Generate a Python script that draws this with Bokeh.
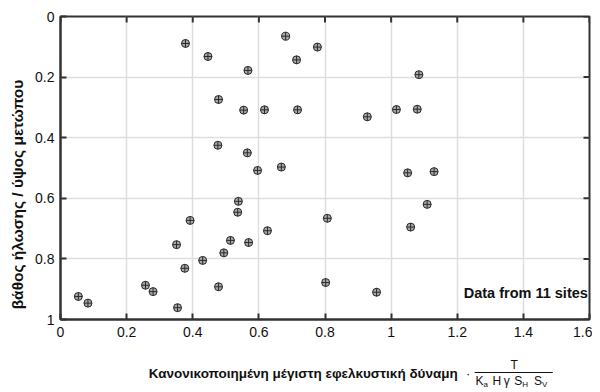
import math
from bokeh.plotting import figure
from bokeh.layouts import row, column
from bokeh.models import Range1d, FixedTicker, Label, ColumnDataSource
from bokeh.core.properties import value
from bokeh.embed import file_html
from bokeh.resources import INLINE

# ---- data (normalised max tensile force vs. normalised nail depth) ----
tension = [0.378, 0.446, 0.567, 0.478, 0.554, 0.617, 0.476, 0.565, 0.596, 0.668,
           0.681, 0.714, 0.717, 0.777, 1.084, 0.928, 1.016, 1.079, 1.050, 1.130,
           0.538, 0.536, 0.392, 0.626, 0.351, 0.514, 0.569, 0.494, 0.430, 0.376,
           0.257, 0.280, 0.478, 0.054, 0.083, 0.354, 0.807, 1.109, 1.059, 0.802,
           0.956]
depth = [0.089, 0.132, 0.178, 0.274, 0.309, 0.308, 0.425, 0.450, 0.508, 0.497,
         0.065, 0.143, 0.308, 0.101, 0.192, 0.331, 0.307, 0.306, 0.516, 0.512,
         0.610, 0.646, 0.673, 0.707, 0.753, 0.739, 0.746, 0.780, 0.805, 0.831,
         0.887, 0.908, 0.892, 0.924, 0.946, 0.961, 0.666, 0.620, 0.695, 0.878,
         0.910]

x_ticks = [0, 0.2, 0.4, 0.6, 0.8, 1.0, 1.2, 1.4, 1.6]
x_tick_labels = ["0", "0.2", "0.4", "0.6", "0.8", "1", "1.2", "1.4", "1.6"]
y_ticks = [0, 0.2, 0.4, 0.6, 0.8, 1.0]
y_tick_labels = ["0", "0.2", "0.4", "0.6", "0.8", "1"]

y_title = "βάθος ήλωσης / ύψος μετώπου"
x_title = "Κανονικοποιημένη  μέγιστη εφελκυστική δύναμη"
note = "Data from 11 sites"

FONT = "Liberation Sans"
AX = "#333333"
TXT = "#111111"
LEFT_W = 30          # width of the strip holding the y title
TOP_H = 342          # height of the main plot (frame 16..319 + tick labels)
W, H = 592, 392

# ---------------- main plot ----------------
p = figure(width=W - LEFT_W, height=TOP_H, x_range=Range1d(0, 1.6), y_range=Range1d(1, 0),
           output_backend="svg", toolbar_location=None,
           min_border_left=60 - LEFT_W, min_border_right=3, min_border_top=16,
           min_border_bottom=TOP_H - 319)
p.background_fill_color = "white"
p.border_fill_color = "white"
p.outline_line_color = AX
p.outline_line_width = 2

src = ColumnDataSource(dict(x=tension, y=depth))
p.scatter("x", "y", source=src, marker="circle_cross", size=8,
          fill_color="#a8a8a8", line_color="#2a2a2a", line_width=1)

# inward tick marks on the top and right edges (half of each dash is clipped by the frame)
p.scatter(x=x_ticks, y=[0.0] * len(x_ticks), marker="dash", size=12, angle=math.pi / 2,
          line_color=AX, line_width=2)
p.scatter(x=[1.6] * len(y_ticks), y=y_ticks, marker="dash", size=12,
          line_color=AX, line_width=2)

xover = {float(t): s for t, s in zip(x_ticks, x_tick_labels)}
yover = {float(t): s for t, s in zip(y_ticks, y_tick_labels)}

def style_axis(ax, ticks, over, standoff):
    ax.ticker = FixedTicker(ticks=ticks)
    ax.major_label_overrides = over
    ax.axis_line_color = AX
    ax.axis_line_width = 2
    ax.major_tick_line_color = AX
    ax.major_tick_line_width = 2
    ax.major_tick_in = 6
    ax.major_tick_out = 0
    ax.minor_tick_line_color = None
    ax.major_label_standoff = standoff
    ax.major_label_text_font = FONT
    ax.major_label_text_color = TXT
    ax.major_label_text_font_size = "14px"

style_axis(p.xaxis[0], x_ticks, xover, 7)
style_axis(p.yaxis[0], y_ticks, yover, 6)

p.xgrid.ticker = FixedTicker(ticks=x_ticks)
p.ygrid.ticker = FixedTicker(ticks=y_ticks)
p.grid.grid_line_color = "#dedede"
p.grid.grid_line_width = 1.5

p.add_layout(Label(x=1.595, y=(292.5 - 16) / 303.0, text=note, text_align="right",
                   text_baseline="middle", text_font=FONT,
                   text_font_size="14.5px", text_font_style="bold", text_color=TXT))

# ---------------- helper strips (page-pixel coordinates) ----------------
def strip(w, h, x0, y0):
    f = figure(width=w, height=h, x_range=Range1d(x0, x0 + w), y_range=Range1d(y0 + h, y0),
               output_backend="svg", toolbar_location=None,
               min_border=0, min_border_left=0, min_border_right=0,
               min_border_top=0, min_border_bottom=0)
    f.axis.visible = False
    f.grid.visible = False
    f.outline_line_color = None
    f.background_fill_color = "white"
    f.border_fill_color = "white"
    return f

# left strip: y title
pl = strip(LEFT_W, H, 0, 0)
pl.text(x=[17], y=[194], text=[y_title], angle=math.pi / 2, text_align="center",
        text_baseline="middle", text_font=value(FONT), text_font_size="15.5px",
        text_font_style="bold", text_color=TXT)

# bottom strip: x title with the normalising fraction
pb = strip(W - LEFT_W, H - TOP_H, LEFT_W, TOP_H)
pb.text(x=[456], y=[373], text=[x_title], text_align="right", text_baseline="middle",
        text_font=value(FONT), text_font_size="13.5px", text_font_style="bold", text_color=TXT)
pb.text(x=[463], y=[373], text=["·"], text_align="center", text_baseline="middle",
        text_font=value(FONT), text_font_size="13px", text_color=TXT)
pb.text(x=[512], y=[364], text=["T"], text_align="center", text_baseline="middle",
        text_font=value(FONT), text_font_size="12px", text_color=TXT)
pb.segment(x0=[470], y0=[372], x1=[553], y1=[372], line_color=TXT, line_width=1)
den_txt = ["K", "H", "γ", "S", "S"]
den_x = [471, 489, 501, 512, 533]
sub_txt = ["a", "H", "V"]
sub_x = [479.5, 520.5, 541.5]
pb.text(x=den_x, y=[380] * len(den_x), text=den_txt, text_align="left", text_baseline="middle",
        text_font=value(FONT), text_font_size="12px", text_color=TXT)
pb.text(x=sub_x, y=[384] * len(sub_x), text=sub_txt, text_align="left", text_baseline="middle",
        text_font=value(FONT), text_font_size="8px", text_color=TXT)

layout = row(pl, column(p, pb))
open("out.html", "w").write(file_html(layout, INLINE))
